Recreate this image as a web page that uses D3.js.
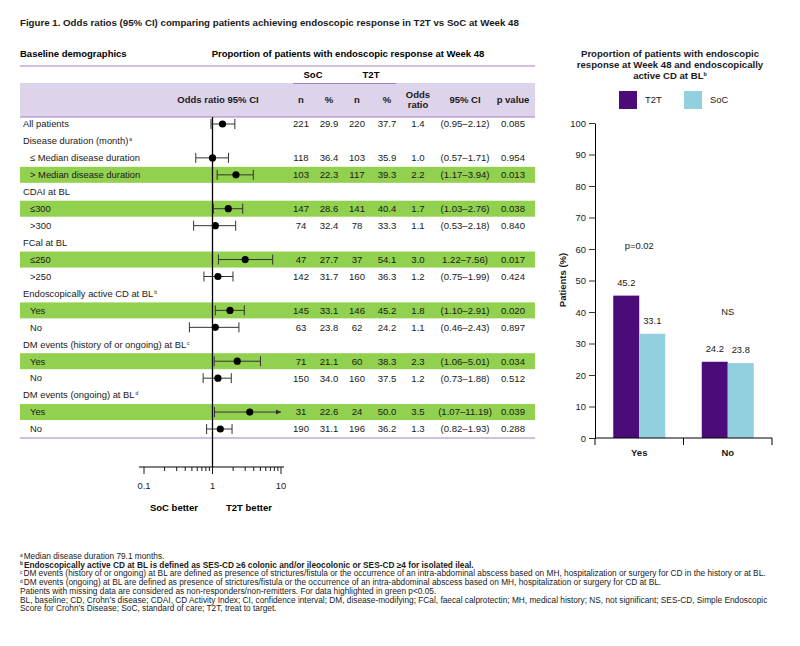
<!DOCTYPE html>
<html>
<head>
<meta charset="utf-8">
<script src="https://cdn.jsdelivr.net/npm/d3@7"></script>
<style>
  body { margin: 0; background: #fff; }
  svg { display: block; font-family: "Liberation Sans", Arial, sans-serif; }
</style>
</head>
<body>
<svg id="chart" width="800" height="646"></svg>
<script>
// Forest plot rows
const rowLabels = ["All patients", "Disease duration (month)", "\u2264 Median disease duration", "> Median disease duration",
  "CDAI at BL", "\u2264300", ">300", "FCal at BL", "\u2264250", ">250", "Endoscopically active CD at BL", "Yes", "No",
  "DM events (history of or ongoing) at BL", "Yes", "No", "DM events (ongoing) at BL", "Yes", "No"];
const rowSup = ["", "a", "", "", "", "", "", "", "", "", "b", "", "", "c", "", "", "d", "", ""];
const rowIsSub = [false, false, true, true, false, true, true, false, true, true, false, true, true, false, true, true, false, true, true];
const rowHighlight = [false, false, false, true, false, true, false, false, true, false, false, true, false, false, true, false, false, true, false];
const socN    = [221, null, 118, 103, null, 147, 74, null, 47, 142, null, 145, 63, null, 71, 150, null, 31, 190];
const socPct  = [29.9, null, 36.4, 22.3, null, 28.6, 32.4, null, 27.7, 31.7, null, 33.1, 23.8, null, 21.1, 34.0, null, 22.6, 31.1];
const t2tN    = [220, null, 103, 117, null, 141, 78, null, 37, 160, null, 146, 62, null, 60, 160, null, 24, 196];
const t2tPct  = [37.7, null, 35.9, 39.3, null, 40.4, 33.3, null, 54.1, 36.3, null, 45.2, 24.2, null, 38.3, 37.5, null, 50.0, 36.2];
const oddsRatio = [1.4, null, 1.0, 2.2, null, 1.7, 1.1, null, 3.0, 1.2, null, 1.8, 1.1, null, 2.3, 1.2, null, 3.5, 1.3];
const ciLow   = [0.95, null, 0.57, 1.17, null, 1.03, 0.53, null, 1.22, 0.75, null, 1.10, 0.46, null, 1.06, 0.73, null, 1.07, 0.82];
const ciHigh  = [2.12, null, 1.71, 3.94, null, 2.76, 2.18, null, 7.56, 1.99, null, 2.91, 2.43, null, 5.01, 1.88, null, 11.19, 1.93];
const ciLabels = ["(0.95\u20132.12)", "", "(0.57\u20131.71)", "(1.17\u20133.94)", "", "(1.03\u20132.76)", "(0.53\u20132.18)", "",
  "1.22\u20137.56)", "(0.75\u20131.99)", "", "(1.10\u20132.91)", "(0.46\u20132.43)", "", "(1.06\u20135.01)", "(0.73\u20131.88)", "",
  "(1.07\u201311.19)", "(0.82\u20131.93)"];
const pValues = ["0.085", "", "0.954", "0.013", "", "0.038", "0.840", "", "0.017", "0.424", "", "0.020", "0.897", "", "0.034", "0.512", "", "0.039", "0.288"];
const forestTicks = [0.1, 1, 10];

// Bar chart
const barCategories = ["Yes", "No"];
const barSeries = ["T2T", "SoC"];
const t2tValues = [45.2, 24.2];
const socValues = [33.1, 23.8];
const pLabels = ["p=0.02", "NS"];

const footnotes = [
  { sup: "a", text: "Median disease duration 79.1 months.", bold: false },
  { sup: "b", text: "Endoscopically active CD at BL is defined as SES-CD \u22656 colonic and/or ileocolonic or SES-CD \u22654 for isolated ileal.", bold: true },
  { sup: "c", text: "DM events (history of or ongoing) at BL are defined as presence of strictures/fistula or the occurrence of an intra-abdominal abscess based on MH, hospitalization or surgery for CD in the history or at BL.", bold: false },
  { sup: "d", text: "DM events (ongoing) at BL are defined as presence of strictures/fistula or the occurrence of an intra-abdominal abscess based on MH, hospitalization or surgery for CD at BL.", bold: false },
  { sup: "", text: "Patients with missing data are considered as non-responders/non-remitters. For data highlighted in green p<0.05.", bold: false },
  { sup: "", text: "BL, baseline; CD, Crohn\u2019s disease; CDAI, CD Activity Index; CI, confidence interval; DM, disease-modifying; FCal, faecal calprotectin; MH, medical history; NS, not significant; SES-CD, Simple Endoscopic", bold: false },
  { sup: "", text: "Score for Crohn\u2019s Disease; SoC, standard of care; T2T, treat to target.", bold: false }
];

const purpleLine = "#a77fc2";
const headerFill = "#ddd3ea";
const green = "#92d050";
const t2tColor = "#4b0c7a";
const socColor = "#92d0e0";
const textColor = "#1a1a1a";

const svg = d3.select("#chart");

// Title
svg.append("text")
  .attr("x", 20).attr("y", 26)
  .attr("font-size", 9.7).attr("font-weight", "bold").attr("fill", textColor)
  .text("Figure 1. Odds ratios (95% CI) comparing patients achieving endoscopic response in T2T vs SoC at Week 48");

// ---------- Forest table ----------
const tableLeft = 20, tableRight = 535;
const y = d3.scalePoint().domain(d3.range(rowLabels.length)).range([124, 429]);
const x = d3.scaleLog().domain([0.1, 10]).range([144, 281]);

svg.append("text").attr("x", 20).attr("y", 57).attr("font-size", 9.5).attr("font-weight", "bold").text("Baseline demographics");
svg.append("text").attr("x", 348).attr("y", 57).attr("font-size", 9.5).attr("font-weight", "bold")
  .attr("text-anchor", "middle").text("Proportion of patients with endoscopic response at Week 48");

svg.append("line").attr("x1", tableLeft).attr("x2", tableRight).attr("y1", 66).attr("y2", 66)
  .attr("stroke", purpleLine).attr("stroke-width", 1.2);

// header band
svg.append("rect").attr("x", tableLeft).attr("y", 83).attr("width", tableRight - tableLeft).attr("height", 34)
  .attr("fill", headerFill);
svg.append("line").attr("x1", tableLeft).attr("x2", tableRight).attr("y1", 117).attr("y2", 117)
  .attr("stroke", purpleLine).attr("stroke-width", 1.2);
svg.append("line").attr("x1", 293).attr("x2", 396).attr("y1", 83.5).attr("y2", 83.5)
  .attr("stroke", purpleLine).attr("stroke-width", 1);

svg.append("text").attr("x", 313).attr("y", 78).attr("font-size", 9.5).attr("font-weight", "bold").attr("text-anchor", "middle").text("SoC");
svg.append("text").attr("x", 371).attr("y", 78).attr("font-size", 9.5).attr("font-weight", "bold").attr("text-anchor", "middle").text("T2T");

const colX = { socN: 301, socPct: 329, t2tN: 357, t2tPct: 387, or: 418, ci: 465, p: 513 };
const hdr = svg.append("g").attr("font-size", 9.5).attr("font-weight", "bold").attr("text-anchor", "middle").attr("fill", textColor);
hdr.append("text").attr("x", 218).attr("y", 103).text("Odds ratio 95% CI");
[["n", colX.socN], ["%", colX.socPct], ["n", colX.t2tN], ["%", colX.t2tPct], ["95% CI", colX.ci], ["p value", colX.p]]
  .forEach(([t, cx]) => hdr.append("text").attr("x", cx).attr("y", 103).text(t));
hdr.append("text").attr("x", colX.or).attr("y", 98).text("Odds");
hdr.append("text").attr("x", colX.or).attr("y", 108).text("ratio");

// green bands
svg.append("g").selectAll("rect")
  .data(d3.range(rowLabels.length).filter(i => rowHighlight[i]))
  .join("rect")
  .attr("x", tableLeft).attr("width", tableRight - tableLeft)
  .attr("y", i => y(i) - 8).attr("height", 16)
  .attr("fill", green);

// bottom line
svg.append("line").attr("x1", tableLeft).attr("x2", tableRight).attr("y1", 438).attr("y2", 438)
  .attr("stroke", purpleLine).attr("stroke-width", 1.2);

// row labels
const labels = svg.append("g").attr("font-size", 9.4).attr("fill", textColor);
rowLabels.forEach((lab, i) => {
  const t = labels.append("text").attr("x", rowIsSub[i] ? 30 : 23).attr("y", y(i)).attr("dy", "0.35em").text(lab);
  if (rowSup[i]) t.append("tspan").attr("font-size", 5).attr("dy", -3).attr("dx", 1).text(rowSup[i]);
});

// numeric columns
const nums = svg.append("g").attr("font-size", 9.6).attr("fill", textColor).attr("text-anchor", "middle");
rowLabels.forEach((lab, i) => {
  if (socN[i] == null) return;
  const cells = [
    [colX.socN, socN[i]], [colX.socPct, socPct[i].toFixed(1)], [colX.t2tN, t2tN[i]], [colX.t2tPct, t2tPct[i].toFixed(1)],
    [colX.or, oddsRatio[i].toFixed(1)], [colX.ci, ciLabels[i]], [colX.p, pValues[i]]
  ];
  cells.forEach(([cx, v]) => nums.append("text").attr("x", cx).attr("y", y(i)).attr("dy", "0.35em").text(v));
});

// reference line at OR = 1
svg.append("line").attr("x1", x(1)).attr("x2", x(1)).attr("y1", 117).attr("y2", 467)
  .attr("stroke", "#000").attr("stroke-width", 1.3);

// whiskers and points
const forest = svg.append("g");
const maxX = x.domain()[1];
rowLabels.forEach((lab, i) => {
  if (oddsRatio[i] == null) return;
  const cy = y(i);
  const lo = x(ciLow[i]);
  const clipped = ciHigh[i] > maxX;
  const hi = x(Math.min(ciHigh[i], maxX));
  forest.append("line").attr("x1", lo).attr("x2", hi).attr("y1", cy).attr("y2", cy)
    .attr("stroke", "#333").attr("stroke-width", 1);
  forest.append("line").attr("x1", lo).attr("x2", lo).attr("y1", cy - 5).attr("y2", cy + 5)
    .attr("stroke", "#333").attr("stroke-width", 1);
  if (clipped) {
    forest.append("path").attr("d", `M${hi},${cy}L${hi - 5},${cy - 2.5}L${hi - 5},${cy + 2.5}Z`).attr("fill", "#333");
  } else {
    forest.append("line").attr("x1", hi).attr("x2", hi).attr("y1", cy - 5).attr("y2", cy + 5)
      .attr("stroke", "#333").attr("stroke-width", 1);
  }
  forest.append("circle").attr("cx", x(oddsRatio[i])).attr("cy", cy).attr("r", 3.6).attr("fill", "#000");
});

// log axis
const minorTicks = [];
for (let d = 0.1; d < 10; d *= 10) for (let k = 1; k <= 9; k++) minorTicks.push(+(d * k).toFixed(2));
minorTicks.push(10);
const axisG = svg.append("g").attr("transform", "translate(0,467)");
axisG.append("line").attr("x1", 139).attr("x2", 284).attr("stroke", "#000").attr("stroke-width", 1);
axisG.selectAll(".tk").data(minorTicks).join("line")
  .attr("x1", d => x(d)).attr("x2", d => x(d)).attr("y1", 0)
  .attr("y2", d => forestTicks.includes(d) ? 7 : 4)
  .attr("stroke", "#000").attr("stroke-width", 0.9);
axisG.selectAll(".lbl").data(forestTicks).join("text")
  .attr("x", d => x(d)).attr("y", 19).attr("dy", "0.35em")
  .attr("text-anchor", "middle").attr("font-size", 9.4).attr("fill", textColor)
  .text(d => d3.format("~g")(d));
svg.append("text").attr("x", 174).attr("y", 511).attr("font-size", 9.5).attr("font-weight", "bold").attr("text-anchor", "middle").text("SoC better");
svg.append("text").attr("x", 249).attr("y", 511).attr("font-size", 9.5).attr("font-weight", "bold").attr("text-anchor", "middle").text("T2T better");

// ---------- Bar chart ----------
const bTitle = svg.append("text").attr("font-size", 9.6).attr("font-weight", "bold").attr("text-anchor", "middle").attr("fill", textColor);
["Proportion of patients with endoscopic", "response at Week 48 and endoscopically"].forEach((t, k) =>
  bTitle.append("tspan").attr("x", 670).attr("y", 57 + k * 10.8).text(t));
bTitle.append("tspan").attr("x", 670).attr("y", 78.6).text("active CD at BL");
bTitle.append("tspan").attr("font-size", 5.5).attr("dy", -3).text("b");

// legend
const legend = svg.append("g").attr("font-size", 9.4).attr("fill", textColor);
[[619, t2tColor, "T2T"], [684, socColor, "SoC"]].forEach(([lx, c, t]) => {
  legend.append("rect").attr("x", lx).attr("y", 91).attr("width", 18).attr("height", 18).attr("fill", c);
  legend.append("text").attr("x", lx + 26).attr("y", 100).attr("dy", "0.35em").text(t);
});

const yb = d3.scaleLinear().domain([0, 100]).range([438, 123]);
const xb = d3.scaleBand().domain(barCategories).range([595, 772]).padding(0);
const inner = d3.scaleBand().domain(barSeries)
  .range([(xb.bandwidth() - 52) / 2, (xb.bandwidth() + 52) / 2]);

const yAxis = svg.append("g").attr("transform", "translate(595,0)")
  .call(d3.axisLeft(yb).ticks(10).tickSize(6).tickSizeOuter(0).tickPadding(3));
yAxis.selectAll("text").attr("font-size", 9.4).attr("fill", textColor).attr("font-family", "Liberation Sans, Arial, sans-serif");
yAxis.selectAll("line").attr("stroke", "#333");
yAxis.select(".domain").attr("stroke", "#000");

const barValues = { T2T: t2tValues, SoC: socValues };
const colors = { T2T: t2tColor, SoC: socColor };
const groups = svg.append("g").selectAll("g").data(barCategories).join("g")
  .attr("transform", d => `translate(${xb(d)},0)`);
groups.each(function (cat, ci) {
  const g = d3.select(this);
  barSeries.forEach(s => {
    const v = barValues[s][ci];
    g.append("rect").attr("x", inner(s)).attr("width", inner.bandwidth())
      .attr("y", yb(v)).attr("height", yb(0) - yb(v)).attr("fill", colors[s]);
    g.append("text").attr("x", inner(s) + inner.bandwidth() / 2).attr("y", yb(v) - 13).attr("dy", "0.35em")
      .attr("text-anchor", "middle").attr("font-size", 9.4).attr("fill", textColor).text(v.toFixed(1));
  });
  const top = d3.max(barSeries, s => barValues[s][ci]);
  g.append("text").attr("x", xb.bandwidth() / 2).attr("y", yb(top + 16)).attr("dy", "0.35em")
    .attr("text-anchor", "middle").attr("font-size", 9.4).attr("fill", textColor).text(pLabels[ci]);
});

// x axis for bars
const xAxis = svg.append("g").attr("transform", "translate(0,438)");
xAxis.append("line").attr("x1", 595).attr("x2", 772).attr("stroke", "#000");
const bounds = barCategories.map(c => xb(c)).concat([xb.range()[1]]);
xAxis.selectAll(".bt").data(bounds).join("line")
  .attr("x1", d => d).attr("x2", d => d).attr("y1", 0).attr("y2", 7).attr("stroke", "#000");
xAxis.selectAll(".bl").data(barCategories).join("text")
  .attr("x", d => xb(d) + xb.bandwidth() / 2).attr("y", 15).attr("dy", "0.35em")
  .attr("text-anchor", "middle").attr("font-size", 9.5).attr("font-weight", "bold").attr("fill", textColor).text(d => d);

svg.append("text").attr("transform", "translate(566,280) rotate(-90)")
  .attr("text-anchor", "middle").attr("font-size", 9.5).attr("font-weight", "bold").attr("fill", textColor)
  .text("Patients (%)");

// ---------- Footnotes ----------
const fn = svg.append("g").attr("font-size", 8.3).attr("fill", textColor);
footnotes.forEach((f, k) => {
  const t = fn.append("text").attr("x", 20).attr("y", 559 + k * 8.7).attr("font-weight", f.bold ? "bold" : "normal");
  if (f.sup) {
    t.append("tspan").attr("font-size", 4.8).attr("dy", -2.5).text(f.sup);
    t.append("tspan").attr("dy", 2.5).attr("dx", 1).text(f.text);
  } else {
    t.text(f.text);
  }
});
</script>
</body>
</html>
